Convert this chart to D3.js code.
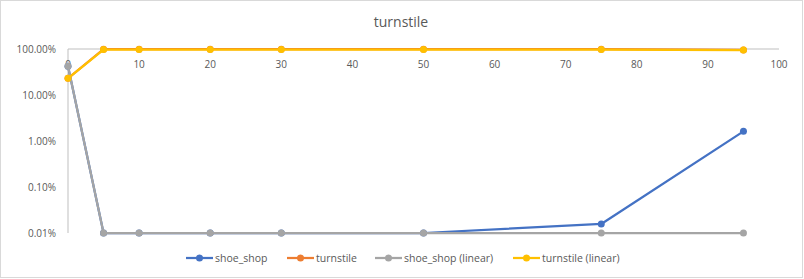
<!DOCTYPE html>
<html>
<head>
<meta charset="utf-8">
<script src="https://cdn.jsdelivr.net/npm/d3@7"></script>
<style>
  body { margin: 0; background: #fff; }
  svg { display: block; font-family: "Open Sans", "Liberation Sans", sans-serif; }
</style>
</head>
<body>
<svg id="chart" width="804" height="279"></svg>
<script>
// data
const xs = [0, 5, 10, 20, 30, 50, 75, 95];
const shoeShop = [0.42, 0.0001, 0.0001, 0.0001, 0.0001, 0.0001, 0.000157, 0.0162];
const turnstile = [0.23, 0.99, 0.99, 0.99, 0.99, 0.99, 0.99, 0.955];
const shoeShopLinear = [0.42, 0.0001, 0.0001, 0.0001, 0.0001, 0.0001, 0.0001, 0.0001];
const turnstileLinear = [0.23, 0.975, 0.975, 0.975, 0.975, 0.975, 0.975, 0.95];
const xTicks = [0, 10, 20, 30, 40, 50, 60, 70, 80, 90, 100];
const yTicks = [1, 0.1, 0.01, 0.001, 0.0001];
const seriesNames = ["shoe_shop", "turnstile", "shoe_shop (linear)", "turnstile (linear)"];
const colors = ["#4472C4", "#ED7D31", "#A5A5A5", "#FFC000"];

const svg = d3.select("#chart");
const textColor = "#595959";

svg.append("rect")
  .attr("x", 0.5).attr("y", 0.5)
  .attr("width", 802).attr("height", 277)
  .attr("fill", "#fff").attr("stroke", "#d9d9d9");

const x = d3.scaleLinear().domain([0, 100]).range([68, 779]);
const y = d3.scaleLog().domain([0.0001, 1]).range([233, 49]);

svg.append("text")
  .attr("x", 401).attr("y", 27)
  .attr("text-anchor", "middle")
  .attr("fill", textColor)
  .style("font-size", "14px")
  .text("turnstile");

// axes lines
svg.append("line")
  .attr("x1", x(0)).attr("x2", x(100))
  .attr("y1", y(1)).attr("y2", y(1))
  .attr("stroke", "#bfbfbf");
svg.append("line")
  .attr("x1", x(0)).attr("x2", x(0))
  .attr("y1", y(1)).attr("y2", y(0.0001))
  .attr("stroke", "#bfbfbf");

svg.selectAll(".xt").data(xTicks).join("text")
  .attr("x", d => x(d)).attr("y", 68)
  .attr("text-anchor", "middle")
  .attr("fill", textColor)
  .style("font-size", "10px")
  .text(d => d);

svg.selectAll(".yt").data(yTicks).join("text")
  .attr("x", 56).attr("y", d => y(d) + 4)
  .attr("text-anchor", "end")
  .attr("fill", textColor)
  .style("font-size", "10px")
  .text(d => (d * 100).toFixed(2) + "%");

const allSeries = [shoeShop, turnstile, shoeShopLinear, turnstileLinear];
const line = d3.line().x((d, i) => x(xs[i])).y(d => y(d));

allSeries.forEach((vals, k) => {
  const g = svg.append("g");
  g.append("path")
    .attr("d", line(vals))
    .attr("fill", "none")
    .attr("stroke", colors[k])
    .attr("stroke-width", 2.25)
    .attr("stroke-linejoin", "round");
  g.selectAll("circle").data(vals).join("circle")
    .attr("cx", (d, i) => x(xs[i]))
    .attr("cy", d => y(d))
    .attr("r", 3.5)
    .attr("fill", colors[k]);
});

// legend
const legendX = [186, 287, 375, 513];
const legend = svg.selectAll(".lg").data(seriesNames).join("g")
  .attr("transform", (d, i) => `translate(${legendX[i]},258)`);
legend.append("line")
  .attr("x1", 0).attr("x2", 27)
  .attr("stroke", (d, i) => colors[i])
  .attr("stroke-width", 2.25);
legend.append("circle")
  .attr("cx", 13.5).attr("r", 3.5)
  .attr("fill", (d, i) => colors[i]);
legend.append("text")
  .attr("x", 29).attr("y", 4)
  .attr("fill", textColor)
  .style("font-size", "10.5px")
  .text(d => d);
</script>
</body>
</html>
